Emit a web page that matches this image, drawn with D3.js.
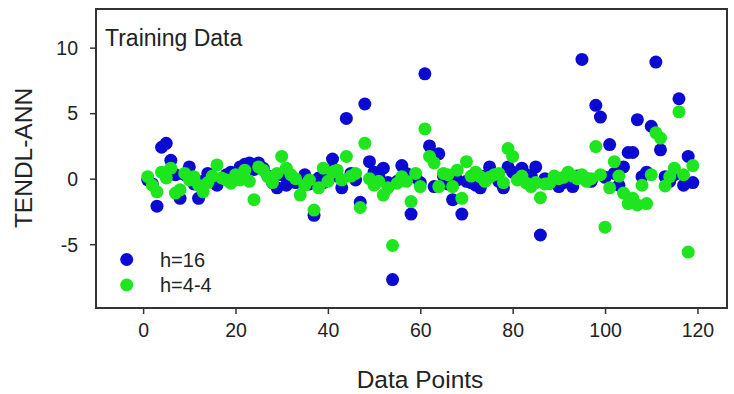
<!DOCTYPE html>
<html>
<head>
<meta charset="utf-8">
<script src="https://cdn.jsdelivr.net/npm/d3@7"></script>
<style>
  html, body { margin: 0; padding: 0; background: #fff; }
  svg { display: block; font-family: "Liberation Sans", Arial, sans-serif; }
</style>
</head>
<body>
<svg id="chart" width="734" height="394"></svg>
<script>
// ---- data ----
const h16 = [
  -0.1, -0.4, -2.1, 2.4, 2.7, 1.4, 0.3, -1.5, 0.3, 0.9,
  -0.4, -1.5, -0.2, 0.4, 0.1, -0.5, 0.0, 0.3, 0.5, 0.4,
  0.9, 1.1, 1.2, 0.7, 1.2, 0.8, 0.2, -0.3, -0.7, 0.3,
  -0.5, 0.2, -0.3, -0.2, 0.3, -0.4, -2.8, 0.05, -0.3, 0.6,
  1.5, 0.2, -0.7, 4.6, 0.4, -0.1, -1.8, 5.7, 1.3, 0.5,
  0.2, 0.8, -0.3, -7.7, -0.2, 1.0, 0.4, -2.7, 0.1, -0.3,
  8.0, 2.5, -0.6, 1.9, 0.2, -0.4, -1.6, -0.1, -2.7, -0.2,
  -0.3, -0.5, -0.7, 0.2, 0.9, 0.3, -0.2, -0.7, 0.9, 0.5,
  0.2, 0.8, 0.3, 0.2, 0.9, -4.3, 0.0, -0.35, -0.2, -0.6,
  -0.3, 0.1, -0.6, 0.2, 9.1, 0.0, -0.2, 5.6, 4.7, 0.1,
  2.6, 0.4, -0.5, 0.9, 2.0, 2.0, 4.5, 0.15, 0.5, 4.0,
  8.9, 2.2, 0.15, -0.2, 0.3, 6.1, -0.5, 1.7, -0.3
];
const h44 = [
  0.15, -0.5, -1.0, 0.5, 0.05, 0.8, -1.1, -0.85, 0.4, -0.1,
  0.15, -0.5, -1.0, -0.3, 0.2, 1.05, 0.05, -0.1, -0.35, 0.3,
  -0.1, 0.65, -0.2, -1.6, 0.9, 0.65, 0.15, -0.3, 0.4, 1.7,
  0.8, 0.3, 0.0, -1.25, -0.5, -0.1, -2.4, -0.7, 0.8, -0.2,
  0.5, 0.65, -0.1, 1.7, 0.2, 0.4, -2.2, 2.7, 0.0, -0.5,
  -0.2, -1.25, -0.7, -5.1, -0.35, 0.15, -0.2, -1.75, 0.4, -0.6,
  3.8, 1.7, 1.2, -0.6, 0.4, 0.3, -0.6, 0.65, -1.5, 1.3,
  0.2, 0.5, 0.15, -0.2, 0.1, 0.3, 0.4, -0.3, 2.3, 1.7,
  -0.1, 0.2, -0.35, -0.6, -0.3, -1.45, -0.4, -0.35, 0.2, 0.0,
  0.1, 0.5, 0.2, 0.0, 0.3, -0.2, 0.0, 2.45, 0.3, -3.7,
  -0.7, 1.3, 0.2, -1.1, -1.9, -1.5, -2.0, -0.5, -1.9, 0.3,
  3.5, 3.1, -0.55, 0.15, 0.8, 5.1, 0.3, -5.6, 1.0
];
const xTicks = [0, 20, 40, 60, 80, 100, 120];
const yTicks = [-5, 0, 5, 10];
const seriesNames = ["h=16", "h=4-4"];
const seriesColors = ["#0a0ad2", "#1ee61e"];

// ---- layout ----
const svg = d3.select("#chart");
const L = 96, T = 9, R = 727, B = 308;
const x = d3.scaleLinear().domain([-10.2, 126.4]).range([L, R]);
const y = d3.scaleLinear().domain([-9.87, 12.95]).range([B, T]);
const ink = "#333";

// axes
const xAxis = svg.append("g").attr("transform", `translate(0,${B})`)
  .call(d3.axisBottom(x).tickValues(xTicks).tickSize(6).tickPadding(9).tickSizeOuter(0)
    .tickFormat(d => String(d)));
const yAxis = svg.append("g").attr("transform", `translate(${L},0)`)
  .call(d3.axisLeft(y).tickValues(yTicks).tickSize(6).tickPadding(12).tickSizeOuter(0)
    .tickFormat(d => String(d)));
[xAxis, yAxis].forEach(g => {
  g.select(".domain").remove();
  g.selectAll(".tick line").attr("stroke", ink).attr("stroke-width", 1.5);
  g.selectAll(".tick text").attr("fill", "#222").style("font-size", "19.5px")
    .style("font-family", "'Liberation Sans', Arial, sans-serif");
});
yAxis.selectAll(".tick text").attr("dy", "0.35em");

// points
svg.append("clipPath").attr("id", "clip").append("rect")
  .attr("x", L).attr("y", T).attr("width", R - L).attr("height", B - T);
const plot = svg.append("g").attr("clip-path", "url(#clip)");
[h16, h44].forEach((arr, si) => {
  plot.append("g").selectAll("circle").data(arr).join("circle")
    .attr("cx", (d, i) => x(i + 1))
    .attr("cy", d => y(d))
    .attr("r", 6.5)
    .attr("fill", seriesColors[si]);
});

// frame
svg.append("rect").attr("x", L).attr("y", T).attr("width", R - L).attr("height", B - T)
  .attr("fill", "none").attr("stroke", ink).attr("stroke-width", 2);

// labels
svg.append("text").attr("x", 105).attr("y", 46).attr("fill", "#222")
  .style("font-size", "23px").text("Training Data");
svg.append("text").attr("x", 420).attr("y", 388).attr("text-anchor", "middle")
  .attr("fill", "#222").style("font-size", "24.5px").text("Data Points");
svg.append("text").attr("transform", "translate(32,158) rotate(-90)")
  .attr("text-anchor", "middle").attr("fill", "#222")
  .style("font-size", "24.5px").text("TENDL-ANN");

// legend
const leg = svg.append("g");
seriesNames.forEach((name, i) => {
  const cy = 259.5 + i * 25.5;
  leg.append("circle").attr("cx", 126.7).attr("cy", cy).attr("r", 6.5).attr("fill", seriesColors[i]);
  leg.append("text").attr("x", 160).attr("y", cy + 7).attr("fill", "#222")
    .style("font-size", "20px").text(name);
});
</script>
</body>
</html>
